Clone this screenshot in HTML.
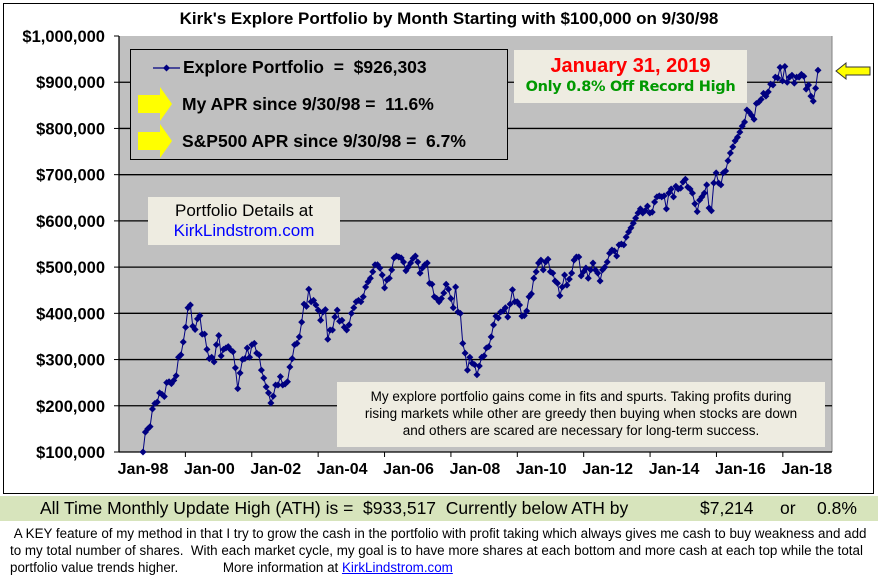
<!DOCTYPE html>
<html><head><meta charset="utf-8"><style>
body{margin:0;width:878px;height:579px;background:#fff;position:relative;overflow:hidden;font-family:"Liberation Sans",Arial,sans-serif}
.abs{position:absolute}
</style></head><body>
<div class="abs" style="left:3px;top:3px;width:869px;height:489px;border:1px solid #000"></div>
<div class="abs" style="left:119px;top:9px;width:660px;text-align:center;font-weight:bold;font-size:17px">Kirk's Explore Portfolio by Month Starting with $100,000 on 9/30/98</div>
<svg class="abs" style="left:0;top:0" width="878" height="500">
<rect x="119" y="36" width="713" height="416" fill="#c0c0c0"/>
<line x1="832" y1="36" x2="832" y2="452" stroke="#808080"/>
<g id="grid"></g><g id="axes"></g><g id="series"></g>
<polygon points="836,71 846,63 846,67 870,67 870,75 846,75 846,79" fill="#ffff00" stroke="#333" stroke-width="1"/>
</svg>
<div class="abs" style="left:130px;top:49px;width:376px;height:109px;border:1px solid #000;background:#c0c0c0"></div>
<svg class="abs" style="left:130px;top:49px" width="60" height="112">
<line x1="23" y1="19" x2="50" y2="19" stroke="#000080" stroke-width="1.2"/><path d="M36.5 15.5 L40 19 L36.5 22.5 L33 19Z" fill="#000080"/>
<polygon points="8,46 30,46 30,38 42,55 30,72 30,64 8,64" fill="#ffff00"/>
<polygon points="8,83 30,83 30,75 42,92 30,109 30,101 8,101" fill="#ffff00"/>
</svg>
<div class="abs" style="left:183px;top:57px;font-weight:bold;font-size:17.5px">Explore Portfolio&nbsp; =&nbsp; $926,303</div>
<div class="abs" style="left:182px;top:94px;font-weight:bold;font-size:17.5px">My APR since 9/30/98 =&nbsp; 11.6%</div>
<div class="abs" style="left:182px;top:131px;font-weight:bold;font-size:17.5px">S&amp;P500 APR since 9/30/98 =&nbsp; 6.7%</div>
<div class="abs" style="left:514px;top:50px;width:233px;height:53px;background:#eeece1;text-align:center">
<div style="color:#ff0000;font-weight:bold;font-size:20px;margin-top:5px">January 31, 2019</div>
<div style="color:#009900;font-weight:bold;font-size:14.5px;font-family:'DejaVu Sans',sans-serif;margin-top:1px;letter-spacing:-0.3px">Only 0.8% Off Record High</div></div>
<div class="abs" style="left:148px;top:197px;width:192px;height:48px;background:#eeece1;text-align:center;font-size:17px">
<div style="margin-top:4px">Portfolio Details at</div><div style="color:#0000ff">KirkLindstrom.com</div></div>
<div class="abs" style="left:337px;top:382px;width:488px;height:65px;background:#eeece1;text-align:center;font-size:13.5px;line-height:17px;box-sizing:border-box;padding-top:6px">My explore portfolio gains come in fits and spurts. Taking profits during<br>rising markets while other are greedy then buying when stocks are down<br>and others are scared are necessary for long-term success.</div>
<div class="abs" style="left:0;top:496px;width:878px;height:25px;background:#d7e4bc;font-size:17.5px;line-height:25px;white-space:pre"><span style="position:absolute;left:40px">All Time Monthly Update High (ATH) is =&nbsp; $933,517&nbsp; Currently below ATH by</span><span style="position:absolute;left:700px">$7,214</span><span style="position:absolute;left:780px">or</span><span style="position:absolute;left:817px">0.8%</span></div>
<div class="abs" style="left:10px;top:525px;width:862px;font-size:13.4px;line-height:17px">&nbsp;A KEY feature of my method in that I try to grow the cash in the portfolio with profit taking which always gives me cash to buy weakness and add to my total number of shares.&nbsp; With each market cycle, my goal is to have more shares at each bottom and more cash at each top while the total portfolio value trends higher.&nbsp;&nbsp;&nbsp;&nbsp;&nbsp;&nbsp;&nbsp;&nbsp;&nbsp;&nbsp;&nbsp; More information at <span style="color:#0000ff;text-decoration:underline">KirkLindstrom.com</span></div>
<script>
const yTicks=[100,200,300,400,500,600,700,800,900,1000];
const yTickLabels=["$100,000","$200,000","$300,000","$400,000","$500,000","$600,000","$700,000","$800,000","$900,000","$1,000,000"];
const xTickLabels=["Jan-98","Jan-00","Jan-02","Jan-04","Jan-06","Jan-08","Jan-10","Jan-12","Jan-14","Jan-16","Jan-18"];
const values=[100,143,150,155,193,205,208,228,225,220,250,252,248,255,265,305,310,338,370,412,418,372,365,388,395,355,355,322,302,305,295,332,352,308,322,325,328,321,317,282,237,271,300,302,325,305,332,335,314,310,277,260,241,228,206,221,245,245,263,245,247,252,284,302,332,335,349,381,420,415,452,425,428,418,407,385,403,408,344,364,364,392,407,383,385,370,364,375,400,412,425,428,425,436,457,468,476,490,505,505,498,483,455,472,476,494,520,524,522,520,511,492,500,509,519,524,511,487,498,505,509,465,463,436,432,425,432,444,463,452,432,412,457,403,400,335,314,277,305,292,289,267,286,305,308,325,328,349,375,394,390,403,405,412,392,420,451,425,425,418,394,395,405,436,442,476,490,509,515,494,511,517,490,487,470,465,438,457,483,461,474,487,515,522,522,481,490,498,476,494,509,494,487,470,494,500,511,530,537,535,524,548,550,548,565,576,585,595,606,617,626,617,622,632,617,619,641,652,654,652,654,626,660,669,652,675,669,671,684,690,673,669,660,637,620,645,652,660,678,628,622,682,704,682,678,704,708,730,747,760,773,781,792,805,814,840,835,828,820,854,857,863,876,870,879,896,894,911,909,932,903,934,900,911,915,898,911,911,917,913,885,894,870,859,887,926];
const NS='http://www.w3.org/2000/svg';
const X0=119,X1=832,Y0=452,Y1=36,PX0=143,PX1=818,MPX=2.766;
function yScale(v){return Y0-(v-100)/900*(Y0-Y1);}
function xScale(i){return PX0+i*(PX1-PX0)/(values.length-1);}
function mk(t,a,p){const e=document.createElementNS(NS,t);for(const k in a)e.setAttribute(k,a[k]);p.appendChild(e);return e;}
const grid=document.getElementById('grid'),axes=document.getElementById('axes'),ser=document.getElementById('series');
yTicks.forEach((v,i)=>{const y=yScale(v);
 if(i>0&&i<yTicks.length-1){const g=mk('line',{x1:X0,x2:X1,y1:y,y2:y,stroke:'#000','stroke-width':1.3},grid);
 
 }
 mk('line',{x1:X0-5,x2:X0,y1:y,y2:y,stroke:'#000'},axes);
 const t=mk('text',{x:105,y:y+6,'text-anchor':'end','font-size':'16.5','font-weight':'bold','font-family':'Liberation Sans,Arial,sans-serif'},axes);
 t.textContent=yTickLabels[i];
 
 });
mk('line',{x1:X0,x2:X0,y1:Y1,y2:Y0,stroke:'#000','stroke-width':1.3},axes);
mk('line',{x1:X0,x2:X1,y1:Y0,y2:Y0,stroke:'#000','stroke-width':1.3},axes);
xTickLabels.forEach((l,i)=>{const cx=PX0+i*24*MPX;
 const tx=X0+(i+1)*24*MPX;
 if(tx<X1)mk('line',{x1:tx,x2:tx,y1:Y0,y2:Y0+5,stroke:'#000'},axes);
 const t=mk('text',{x:cx,y:474,'text-anchor':'middle','font-size':'16','font-weight':'bold','font-family':'Liberation Sans,Arial,sans-serif'},axes);
 t.textContent=l;
 
 });
const line=mk('polyline',{points:values.map((v,i)=>xScale(i)+','+yScale(v)).join(' '),fill:'none',stroke:'#000080','stroke-width':1},ser);


values.forEach((v,i)=>{const x=xScale(i),y=yScale(v);
 const p=mk('path',{d:`M${x} ${y-3.5}L${x+3.5} ${y}L${x} ${y+3.5}L${x-3.5} ${y}Z`,fill:'#000080'},ser);
 
 });
</script>
</body></html>
